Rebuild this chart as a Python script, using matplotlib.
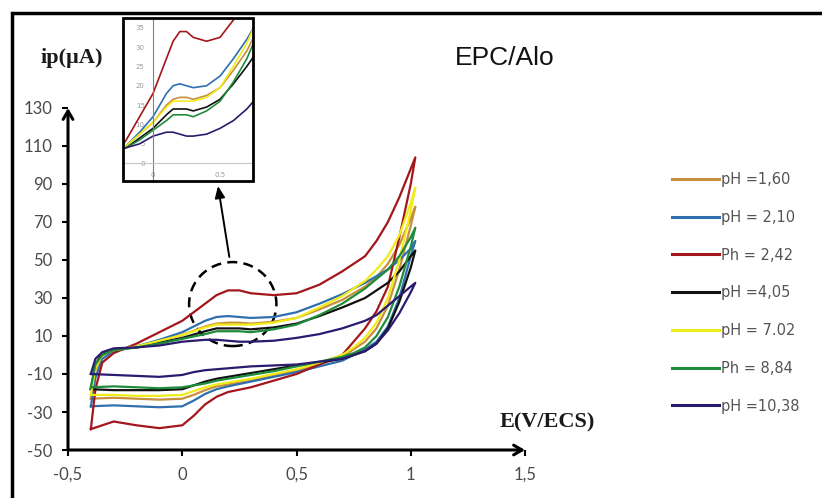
"""
Cyclic voltammograms of EPC/Alo recorded at different pH values,
with a zoomed inset on the oxidation peak.
"""

import matplotlib
matplotlib.use("Agg")
import matplotlib.pyplot as plt
from matplotlib.patches import Ellipse, Rectangle

# Potentials (V/ECS) of the forward and return sweeps
E_FWD = [-0.40, -0.38, -0.35, -0.30, -0.20, -0.10, 0.00, 0.10, 0.15, 0.20, 0.25,
         0.30, 0.40, 0.50, 0.60, 0.70, 0.80, 0.85, 0.90, 0.95, 1.00, 1.02]
E_REV = [1.02, 1.00, 0.95, 0.90, 0.85, 0.80, 0.75, 0.70, 0.60, 0.50, 0.40,
         0.30, 0.20, 0.15, 0.10, 0.05, 0.00, -0.10, -0.20, -0.30, -0.40]

labels = ["pH =1,60", "pH = 2,10", "Ph = 2,42", "pH =4,05",
          "pH = 7.02", "Ph = 8,84", "pH =10,38"]
colors = ["#c8903c", "#2f6fb0", "#a3161c", "#111111",
          "#f0ec18", "#1f8c3c", "#2b1a6e"]

# currents ip (uA), forward sweep
ph160_fwd = [-23, -8, 0, 2.5, 4.5, 7.5, 10.5, 15, 16.5, 17, 17, 16.5, 17.5, 19.5, 24, 29, 36, 41, 48, 58, 72, 78]
ph210_fwd = [-27, -12, -2, 2, 4.5, 8, 12, 18, 20, 20.5, 20, 19.5, 20, 22.5, 27, 32, 38, 41.5, 45, 50, 56, 60]
ph242_fwd = [-39, -18, -4, 1, 6, 12, 18, 27, 31.5, 34, 34, 32.5, 31.5, 32.5, 37, 44, 52, 60, 70, 83, 98, 104]
ph405_fwd = [-18, -5, 1, 3, 4, 6.5, 9, 12.5, 14, 14, 14, 13.5, 14.5, 16.5, 20.5, 25, 30, 34, 38, 44, 52, 55]
ph702_fwd = [-21, -7, 0, 2.5, 4.5, 7.5, 10.5, 14.5, 16, 16, 16, 16, 17, 19.5, 25, 31, 39, 45, 52, 63, 80, 88]
ph884_fwd = [-17, -5, 0, 2.5, 4, 6, 8.5, 11, 12.5, 12.5, 12.5, 12, 13.5, 16, 21, 27, 35, 40, 45, 52, 62, 67]
ph1038_fwd = [-10, -2, 1.5, 3.5, 4, 5, 7, 8, 8, 7.5, 7, 7, 7.5, 9, 11, 14, 18, 21, 26, 31, 36, 38]

# currents ip (uA), return sweep
ph160_rev = [78, 68, 45, 26, 14, 7, 3, -1, -5, -8, -11, -13.5, -15.5, -16.5, -18.5, -21, -23, -23.5, -23, -22.5, -23]
ph210_rev = [60, 52, 30, 15, 7, 3, 0, -3, -6, -9, -11.5, -14, -16.5, -18, -20.5, -24, -27, -27.5, -27, -26.5, -27]
ph242_rev = [104, 90, 62, 36, 23, 14, 7, 0, -5, -10, -13.5, -17, -19.5, -22, -26, -32, -37, -38.5, -37, -35, -39]
ph405_rev = [55, 46, 28, 14, 6, 2, 0, -2, -4, -5.5, -7.5, -9.5, -11.5, -12.5, -14, -16, -18, -18.5, -18.5, -18.5, -18]
ph702_rev = [88, 76, 50, 30, 17, 9, 4, 0, -4, -7.5, -10, -12.5, -14.5, -15.5, -17, -19, -21, -21.5, -21.5, -21, -21]
ph884_rev = [67, 57, 36, 20, 10, 4, 1, -1, -3.5, -6, -8.5, -10.5, -12.5, -13.5, -15, -16, -17, -17.5, -17, -16.5, -17]
ph1038_rev = [38, 33, 22, 13, 6, 2, 0, -2, -3.5, -5, -5.5, -6, -7, -7.5, -8, -9, -10.5, -11.5, -11, -10.5, -10]

fwd_all = [ph160_fwd, ph210_fwd, ph242_fwd, ph405_fwd, ph702_fwd, ph884_fwd, ph1038_fwd]
rev_all = [ph160_rev, ph210_rev, ph242_rev, ph405_rev, ph702_rev, ph884_rev, ph1038_rev]

y_ticks = [-50, -30, -10, 10, 30, 50, 70, 90, 110, 130]
x_ticks = [-0.5, 0, 0.5, 1, 1.5]
x_ticklabels = ["-0,5", "0", "0,5", "1", "1,5"]

W, H = 822, 498
fig = plt.figure(figsize=(W / 100, H / 100), dpi=100)
fig.patch.set_facecolor("white")

# outer frame of the picture (only top and left edges fall inside)
fig.patches.append(Rectangle((12 / W, -0.1), 1.2, 1.1 - 13 / H, transform=fig.transFigure,
                             fill=False, edgecolor="black", linewidth=2.5))

# main axes
ax = fig.add_axes([68 / W, (H - 450) / H, (525 - 68) / W, (450 - 108) / H])
for i in range(len(labels)):
    E = E_FWD + E_REV
    ip = fwd_all[i] + rev_all[i]
    ax.plot(E, ip, color=colors[i], linewidth=1.6, label=labels[i])

ax.set_xlim(-0.5, 1.5)
ax.set_ylim(-50, 130)
ax.set_yticks(y_ticks)
ax.set_yticklabels([str(v) for v in y_ticks])
ax.set_xticks(x_ticks)
ax.set_xticklabels(x_ticklabels)
for s in ["top", "right", "left", "bottom"]:
    ax.spines[s].set_visible(False)
ax.tick_params(axis="both", direction="out", length=4, width=1.5, color="black",
               labelsize=12, labelcolor="#4a4a4a")
ax.tick_params(axis="x", pad=8)
ax.tick_params(axis="y", pad=7)
for t in ax.get_xticklabels() + ax.get_yticklabels():
    t.set_fontfamily("Lato")

# axes drawn as arrows
ax.annotate("", xy=(0, 1.0), xytext=(0, 0), xycoords="axes fraction",
            arrowprops=dict(arrowstyle="->,head_length=0.6,head_width=0.35", lw=2.2, color="black",
                            shrinkA=0, shrinkB=0))
ax.annotate("", xy=(1.0, 0), xytext=(0, 0), xycoords="axes fraction",
            arrowprops=dict(arrowstyle="->,head_length=0.6,head_width=0.35", lw=2.2, color="black",
                            shrinkA=0, shrinkB=0))

fig.text(72 / W, 1 - 58 / H, "ip(\u00b5A)", family="Liberation Serif", fontweight="bold",
         fontsize=16, ha="center", va="center", color="#1a1a1a")
fig.text(547 / W, 1 - 422 / H, "E(V/ECS)", family="Liberation Serif", fontweight="bold",
         fontsize=16, ha="center", va="center", color="#1a1a1a")
fig.text(505 / W, 1 - 58 / H, "EPC/Alo", family="Liberation Sans", fontsize=19,
         ha="center", va="center", color="#111111")

# dashed circle around the oxidation peak
ax.add_patch(Ellipse((0.221, 26.8), 0.382, 44.2, fill=False, edgecolor="black",
                     linestyle=(0, (4, 2.5)), linewidth=1.8))

# arrow from the circle up to the inset
ax.annotate("", xy=(218 / W, 1 - 186 / H), xycoords="figure fraction",
            xytext=(0.206, 51.6), textcoords="data",
            arrowprops=dict(arrowstyle="-|>,head_length=0.7,head_width=0.3",
                            lw=1.4, color="black", shrinkA=0, shrinkB=0))

# legend
leg = ax.legend(loc="upper left", bbox_to_anchor=(672 / W, 1 - 172 / H),
                bbox_transform=fig.transFigure, frameon=False, fontsize=10.5,
                handlelength=3.2, handletextpad=0.15, labelspacing=1.56,
                borderaxespad=0, borderpad=0)
for t in leg.get_texts():
    t.set_color("#555555")
for ln in leg.get_lines():
    ln.set_linewidth(2.2)

# inset zoom on the anodic peak
ax_in = fig.add_axes([123 / W, (H - 181) / H, 130 / W, 163 / H])
for i in range(len(labels)):
    ax_in.plot(E_FWD, fwd_all[i], color=colors[i], linewidth=1.2)
ax_in.set_xlim(-0.224, 0.746)
ax_in.set_ylim(-4.6, 37.5)
ax_in.spines["left"].set_position(("data", 0))
ax_in.spines["bottom"].set_position(("data", 0))
ax_in.spines["left"].set_color("#808080")
ax_in.spines["bottom"].set_color("#c8c8c8")
ax_in.spines["top"].set_visible(False)
ax_in.spines["right"].set_visible(False)
ax_in.set_xticks([0, 0.5])
ax_in.set_xticklabels(["0", "0.5"])
ax_in.set_yticks([0, 5, 10, 15, 20, 25, 30, 35])
ax_in.tick_params(axis="both", length=0, labelsize=5, labelcolor="#9a9a9a", pad=6)
ax_in.add_patch(Rectangle((0, 0), 1, 1, transform=ax_in.transAxes, fill=False,
                          edgecolor="black", linewidth=2, clip_on=False, zorder=5))

fig.savefig("out.png", dpi=100)
